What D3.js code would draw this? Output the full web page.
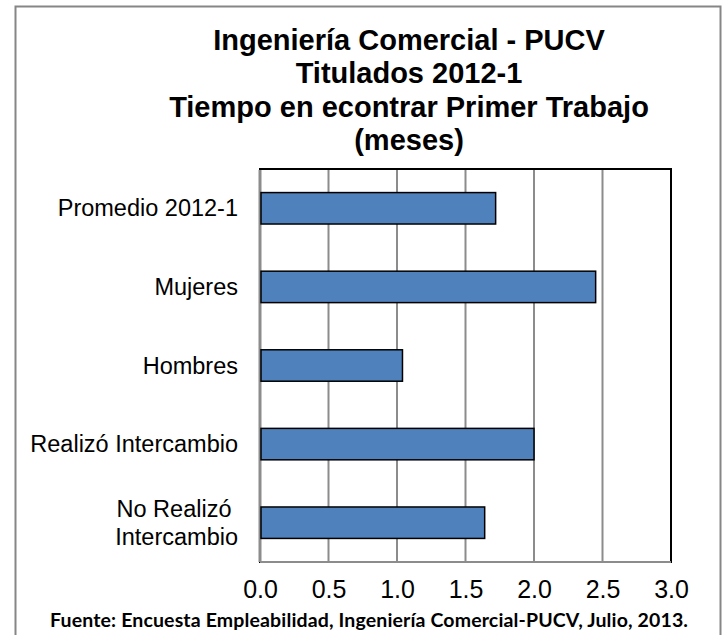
<!DOCTYPE html>
<html lang="es">
<head>
    <meta charset="UTF-8">
    <title>Tiempo en encontrar Primer Trabajo</title>
    <script src="https://d3js.org/d3.v7.min.js"></script>
    <style>
        body { margin: 0; background: #fff; }
    </style>
</head>
<body>
    <div id="chart"></div>

    <script>
        // data
        var categories = ["Promedio 2012-1", "Mujeres", "Hombres", "Realizó Intercambio", "No Realizó Intercambio"];
        var labelLines = [["Promedio 2012-1"], ["Mujeres"], ["Hombres"], ["Realizó Intercambio"], ["No Realizó ", "Intercambio"]];
        var values = [1.72, 2.45, 1.04, 2.00, 1.64];
        var ticks = [0, 0.5, 1, 1.5, 2, 2.5, 3];
        var titleLines = ["Ingeniería Comercial - PUCV", "Titulados 2012-1", "Tiempo en econtrar Primer Trabajo", "(meses)"];
        var source = "Fuente: Encuesta Empleabilidad, Ingeniería Comercial-PUCV, Julio, 2013.";

        var W = 725, H = 635;
        var plot = {left: 260, top: 169, right: 671, bottom: 562};

        var svg = d3.select("#chart")
            .append("svg")
            .attr("width", W)
            .attr("height", H);

        // outer chart border
        svg.append("rect")
            .attr("x", 15.5)
            .attr("y", 6.5)
            .attr("width", 705)
            .attr("height", 640)
            .attr("fill", "#fff")
            .attr("stroke", "#868686")
            .attr("stroke-width", 2);

        // title
        svg.append("g")
            .selectAll("text")
            .data(titleLines)
            .enter()
            .append("text")
            .attr("x", 409)
            .attr("y", function(d, i) { return 49.5 + i * 33.6; })
            .attr("text-anchor", "middle")
            .style("font-family", "'Liberation Sans', Arial, sans-serif")
            .style("font-weight", "bold")
            .style("font-size", "29px")
            .text(function(d) { return d; });

        // scales
        var x = d3.scaleLinear()
            .domain([0, 3])
            .range([plot.left, plot.right]);

        var y = d3.scaleBand()
            .domain(categories)
            .range([plot.top, plot.bottom])
            .paddingInner(0.6)
            .paddingOuter(0.3);

        // plot area border
        svg.append("rect")
            .attr("x", plot.left)
            .attr("y", plot.top)
            .attr("width", plot.right - plot.left)
            .attr("height", plot.bottom - plot.top)
            .attr("fill", "#fff")
            .attr("stroke", "#000")
            .attr("stroke-width", 2);

        // vertical gridlines
        svg.append("g")
            .selectAll("line")
            .data(ticks.slice(0, -1))
            .enter()
            .append("line")
            .attr("x1", function(d) { return x(d); })
            .attr("x2", function(d) { return x(d); })
            .attr("y1", plot.top + 1)
            .attr("y2", plot.bottom)
            .attr("stroke", "#8c8c8c")
            .attr("stroke-width", function(d) { return d == 0 ? 3 : 2; });

        // bottom axis line
        svg.append("line")
            .attr("x1", plot.left)
            .attr("x2", plot.right)
            .attr("y1", plot.bottom)
            .attr("y2", plot.bottom)
            .attr("stroke", "#8c8c8c")
            .attr("stroke-width", 2);

        // bars
        svg.append("g")
            .selectAll("rect")
            .data(categories)
            .enter()
            .append("rect")
            .attr("x", x(0) + 1)
            .attr("y", function(d) { return y(d); })
            .attr("width", function(d, i) { return x(values[i]) - x(0) - 1; })
            .attr("height", y.bandwidth())
            .attr("fill", "#4f81bd")
            .attr("stroke", "#000")
            .attr("stroke-width", 1.5);

        // x axis labels
        var xAxis = svg.append("g")
            .attr("transform", "translate(0," + plot.bottom + ")")
            .call(d3.axisBottom(x).tickValues(ticks).tickSize(0).tickPadding(18).tickFormat(d3.format(".1f")));
        xAxis.select(".domain").remove();
        xAxis.selectAll("text")
            .style("font-family", "'Liberation Sans', Arial, sans-serif")
            .style("font-size", "25px")
            .attr("fill", "#000");

        // category labels
        var cat = svg.append("g")
            .selectAll("text")
            .data(categories)
            .enter()
            .append("text")
            .attr("text-anchor", "end")
            .style("font-family", "'Liberation Sans', Arial, sans-serif")
            .style("font-size", "23.5px")
            .style("white-space", "pre")
            .attr("x", 238)
            .attr("y", function(d) { return y(d) + y.bandwidth() / 2; });
        cat.each(function(d, i) {
            var lines = labelLines[i];
            var t = d3.select(this);
            lines.forEach(function(l, j) {
                t.append("tspan")
                    .attr("x", 238)
                    .attr("dy", j == 0 ? (8 - (lines.length - 1) * 14) : 28)
                    .text(l);
            });
        });

        // source note
        svg.append("text")
            .attr("x", 50)
            .attr("y", 626.5)
            .attr("textLength", 638)
            .attr("lengthAdjust", "spacing")
            .style("font-family", "Lato, 'Open Sans', sans-serif")
            .style("font-weight", "bold")
            .style("font-size", "19.5px")
            .text(source);
    </script>
</body>
</html>
